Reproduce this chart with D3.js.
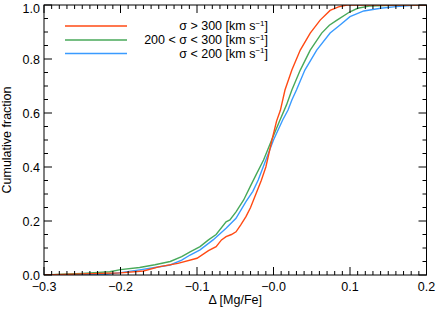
<!doctype html>
<html lang="en">
<head>
<meta charset="utf-8">
<title>Cumulative fraction</title>
<style>
  body { margin: 0; background: #fff; }
  text { font-family: "Liberation Sans", Arial, sans-serif; fill: #000; }
</style>
</head>
<body>
<script src="https://cdn.jsdelivr.net/npm/d3@7"></script>
<script>

// data
var redX   = [-0.30, -0.25, -0.20, -0.17, -0.15, -0.125, -0.10, -0.085, -0.075, -0.068, -0.062, -0.055, -0.049, -0.043, -0.036, -0.030, -0.023, -0.016, -0.010, -0.006, -0.002, 0.004, 0.009, 0.015, 0.024, 0.035, 0.048, 0.061, 0.074, 0.085, 0.096, 0.20];
var redY   = [0, 0.004, 0.008, 0.015, 0.030, 0.043, 0.062, 0.090, 0.105, 0.130, 0.142, 0.150, 0.160, 0.185, 0.216, 0.250, 0.300, 0.350, 0.400, 0.450, 0.500, 0.570, 0.610, 0.685, 0.759, 0.833, 0.896, 0.944, 0.980, 0.993, 1.0, 1.0];

var greenX = [-0.30, -0.25, -0.214, -0.20, -0.175, -0.155, -0.135, -0.12, -0.109, -0.096, -0.085, -0.075, -0.062, -0.057, -0.049, -0.039, -0.030, -0.023, -0.013, -0.0024, 0.0085, 0.017, 0.024, 0.035, 0.048, 0.063, 0.073, 0.083, 0.10, 0.11, 0.125, 0.165, 0.20];
var greenY = [0, 0.006, 0.012, 0.020, 0.028, 0.038, 0.050, 0.068, 0.086, 0.105, 0.130, 0.150, 0.197, 0.204, 0.234, 0.278, 0.330, 0.370, 0.426, 0.500, 0.574, 0.630, 0.685, 0.759, 0.833, 0.896, 0.925, 0.944, 0.975, 0.988, 0.996, 1.0, 1.0];

var blueX  = [-0.30, -0.22, -0.20, -0.175, -0.155, -0.135, -0.12, -0.109, -0.096, -0.079, -0.062, -0.049, -0.036, -0.027, -0.020, -0.010, 0.000, 0.012, 0.019, 0.024, 0.030, 0.041, 0.0565, 0.074, 0.087, 0.10, 0.118, 0.14, 0.16, 0.188, 0.20];
var blueY  = [0, 0.002, 0.009, 0.019, 0.028, 0.037, 0.055, 0.074, 0.093, 0.130, 0.173, 0.210, 0.272, 0.310, 0.352, 0.426, 0.500, 0.574, 0.611, 0.648, 0.685, 0.759, 0.833, 0.896, 0.926, 0.957, 0.978, 0.988, 0.994, 1.0, 1.0];

var xTicks = [-0.3, -0.2, -0.1, 0.0, 0.1, 0.2];
var xTickLabels = ["\u22120.3", "\u22120.2", "\u22120.1", "\u22120.0", "0.1", "0.2"];
var yTicks = [0, 0.2, 0.4, 0.6, 0.8, 1.0];

var legendLabels = [
  { pre: "\u03c3 > 300 [km s", color: "#ff4a14" },
  { pre: "200 < \u03c3 < 300 [km s", color: "#48a95a" },
  { pre: "\u03c3 < 200 [km s", color: "#3a9bff" }
];

var series = [
  { xs: redX, ys: redY, color: "#ff4a14" },
  { xs: greenX, ys: greenY, color: "#48a95a" },
  { xs: blueX, ys: blueY, color: "#3a9bff" }
];

var W = 436, H = 310;
var margin = {top: 5, right: 9.5, bottom: 35, left: 44},
    width  = W - margin.left - margin.right,
    height = H - margin.top - margin.bottom;

var svg = d3.select("body").append("svg")
  .attr("width", W)
  .attr("height", H);

var chart = svg.append("g")
  .attr("transform", "translate(" + margin.left + "," + margin.top + ")");

var x = d3.scaleLinear().domain([-0.3, 0.2]).range([0, width]);
var y = d3.scaleLinear().domain([0, 1]).range([height, 0]);

chart.append("clipPath").attr("id", "clip")
  .append("rect").attr("width", width).attr("height", height);

// curves
var line = d3.line()
  .x(function(d){ return x(d[0]); })
  .y(function(d){ return y(d[1]); });

// draw blue, green, red order so red sits on top
[2, 1, 0].forEach(function(i){
  var s = series[i];
  var pts = s.xs.map(function(v, k){ return [v, s.ys[k]]; });
  chart.append("path")
    .datum(pts)
    .attr("clip-path", "url(#clip)")
    .attr("fill", "none")
    .attr("stroke", s.color)
    .attr("stroke-width", 1.4)
    .attr("d", line);
});

// ticks, all inward
var xMinor = d3.range(-30, 21).map(function(v){ return v / 100; });
var yMinor = d3.range(0, 21).map(function(v){ return v / 20; });
var tickG = chart.append("g").attr("stroke", "#000").attr("stroke-width", 1);

xMinor.forEach(function(v){
  var major = Math.abs(v * 10 - Math.round(v * 10)) < 1e-6;
  var len = major ? 8 : 4;
  tickG.append("line").attr("x1", x(v)).attr("x2", x(v)).attr("y1", height).attr("y2", height - len);
  tickG.append("line").attr("x1", x(v)).attr("x2", x(v)).attr("y1", 0).attr("y2", len);
});
yMinor.forEach(function(v){
  var major = Math.abs(v * 5 - Math.round(v * 5)) < 1e-6;
  var len = major ? 8 : 4;
  tickG.append("line").attr("y1", y(v)).attr("y2", y(v)).attr("x1", 0).attr("x2", len);
  tickG.append("line").attr("y1", y(v)).attr("y2", y(v)).attr("x1", width).attr("x2", width - len);
});

// frame
chart.append("rect")
  .attr("width", width).attr("height", height)
  .attr("fill", "none").attr("stroke", "#000").attr("stroke-width", 1);

// tick labels
chart.selectAll(".xl").data(xTicks).enter().append("text")
  .attr("x", function(d){ return x(d); })
  .attr("y", height + 16)
  .attr("text-anchor", "middle")
  .style("font-size", "12.5px")
  .text(function(d, i){ return xTickLabels[i]; });

chart.selectAll(".yl").data(yTicks).enter().append("text")
  .attr("x", -4)
  .attr("y", function(d){ return Math.max(y(d) + 4.5, 7.5); })
  .attr("text-anchor", "end")
  .style("font-size", "12.5px")
  .text(function(d){ return d.toFixed(1); });

// axis titles
svg.append("text")
  .attr("x", margin.left + width / 2)
  .attr("y", 304)
  .attr("text-anchor", "middle")
  .style("font-size", "12.5px")
  .text("\u0394 [Mg/Fe]");

svg.append("text")
  .attr("transform", "translate(11," + (margin.top + height / 2) + ") rotate(-90)")
  .attr("text-anchor", "middle")
  .style("font-size", "12.5px")
  .text("Cumulative fraction");

// legend
var legY = [26, 40, 53.5];
legendLabels.forEach(function(d, i){
  svg.append("line")
    .attr("x1", 65).attr("x2", 127)
    .attr("y1", legY[i]).attr("y2", legY[i])
    .attr("stroke", d.color).attr("stroke-width", 1.4);
  var t = svg.append("text")
    .attr("x", 268)
    .attr("y", legY[i] + 4)
    .attr("text-anchor", "end")
    .style("font-size", "12.5px");
  t.append("tspan").text(d.pre);
  t.append("tspan").attr("dy", -4.5).style("font-size", "8px").text("\u22121");
  t.append("tspan").attr("dy", 4.5).text("]");
});

</script>
</body>
</html>
